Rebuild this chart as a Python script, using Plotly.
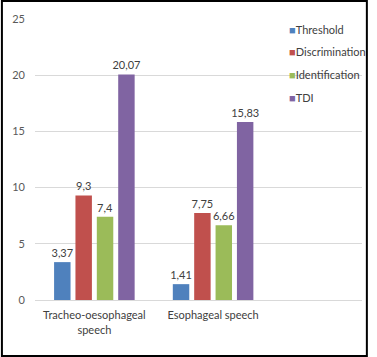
import plotly.graph_objects as go

categories = ["Tracheo-oesophageal<br>speech", "Esophageal speech"]
series_names = ["Threshold", "Discrimination", "Identification", "TDI"]
threshold = [3.37, 1.41]
discrimination = [9.3, 7.75]
identification = [7.4, 6.66]
tdi = [20.07, 15.83]
y_ticks = [0, 5, 10, 15, 20, 25]

colors = ["#4F81BD", "#C0504D", "#9BBB59", "#8064A2"]
values = [threshold, discrimination, identification, tdi]

W, H = 377, 357
L, R, T, B = 35, 6, 19, 57
pw, ph = W - L - R, H - T - B
FONT = "Lato, Carlito, Calibri, sans-serif"

fig = go.Figure()
for name, vals, col in zip(series_names, values, colors):
    fig.add_trace(go.Bar(
        x=categories, y=vals, name=name, marker_color=col,
        marker_line_width=0,
        text=[f"{v:g}".replace(".", ",") for v in vals],
        textposition="outside", cliponaxis=False, constraintext="none",
        textfont=dict(family=FONT, size=11, color="#404040"),
        showlegend=False,
    ))

# legend-only entries (square swatch right next to label)
for i, (name, col) in enumerate(zip(series_names, colors)):
    fig.add_trace(go.Scatter(
        x=[None], y=[None], mode="markers",
        marker=dict(size=1, opacity=0, color="rgba(0,0,0,0)"),
        name=f'<span style="color:{col}">■</span>{name}',
        legendgroup=f"g{i}", showlegend=True,
    ))

def px_x(p):
    return (p - L) / pw

def px_y(p):
    return (H - B - p) / ph

fig.update_layout(
    width=W, height=H, autosize=False,
    margin=dict(l=L, r=R, t=T, b=B),
    paper_bgcolor="white", plot_bgcolor="white",
    barmode="group", bargap=0.28, bargroupgap=0.23,
    font=dict(family=FONT, size=11, color="#595959"),
    legend=dict(
        x=px_x(255), y=px_y(15), xanchor="left", yanchor="top",
        bgcolor="rgba(0,0,0,0)", borderwidth=0,
        font=dict(family=FONT, size=11, color="#404040"),
        tracegroupgap=3.6, traceorder="grouped",
    ),
    xaxis=dict(
        type="category", range=[-0.5, pw / 122 - 0.5],
        showgrid=False, showline=True, linecolor="#D9D9D9", linewidth=1,
        ticks="", tickfont=dict(family=FONT, size=11, color="#404040"),
        ticklabelstandoff=5,
    ),
    yaxis=dict(
        range=[0, 25], tickvals=y_ticks, showgrid=True,
        gridcolor="#D9D9D9", gridwidth=1, zeroline=False, showline=False,
        ticks="", tickfont=dict(family=FONT, size=11, color="#595959"),
        ticklabelstandoff=9,
    ),
    shapes=[dict(
        type="rect", xref="paper", yref="paper",
        x0=px_x(1), x1=px_x(376), y0=px_y(356), y1=px_y(1),
        line=dict(color="black", width=2), fillcolor="rgba(0,0,0,0)",
        layer="above",
    )],
)

fig.write_html(
    "out.html",
    config=dict(displayModeBar=False, responsive=False),
    post_script="document.documentElement.style.overflow='hidden';document.body.style.margin='0';document.body.style.overflow='hidden';",
)
